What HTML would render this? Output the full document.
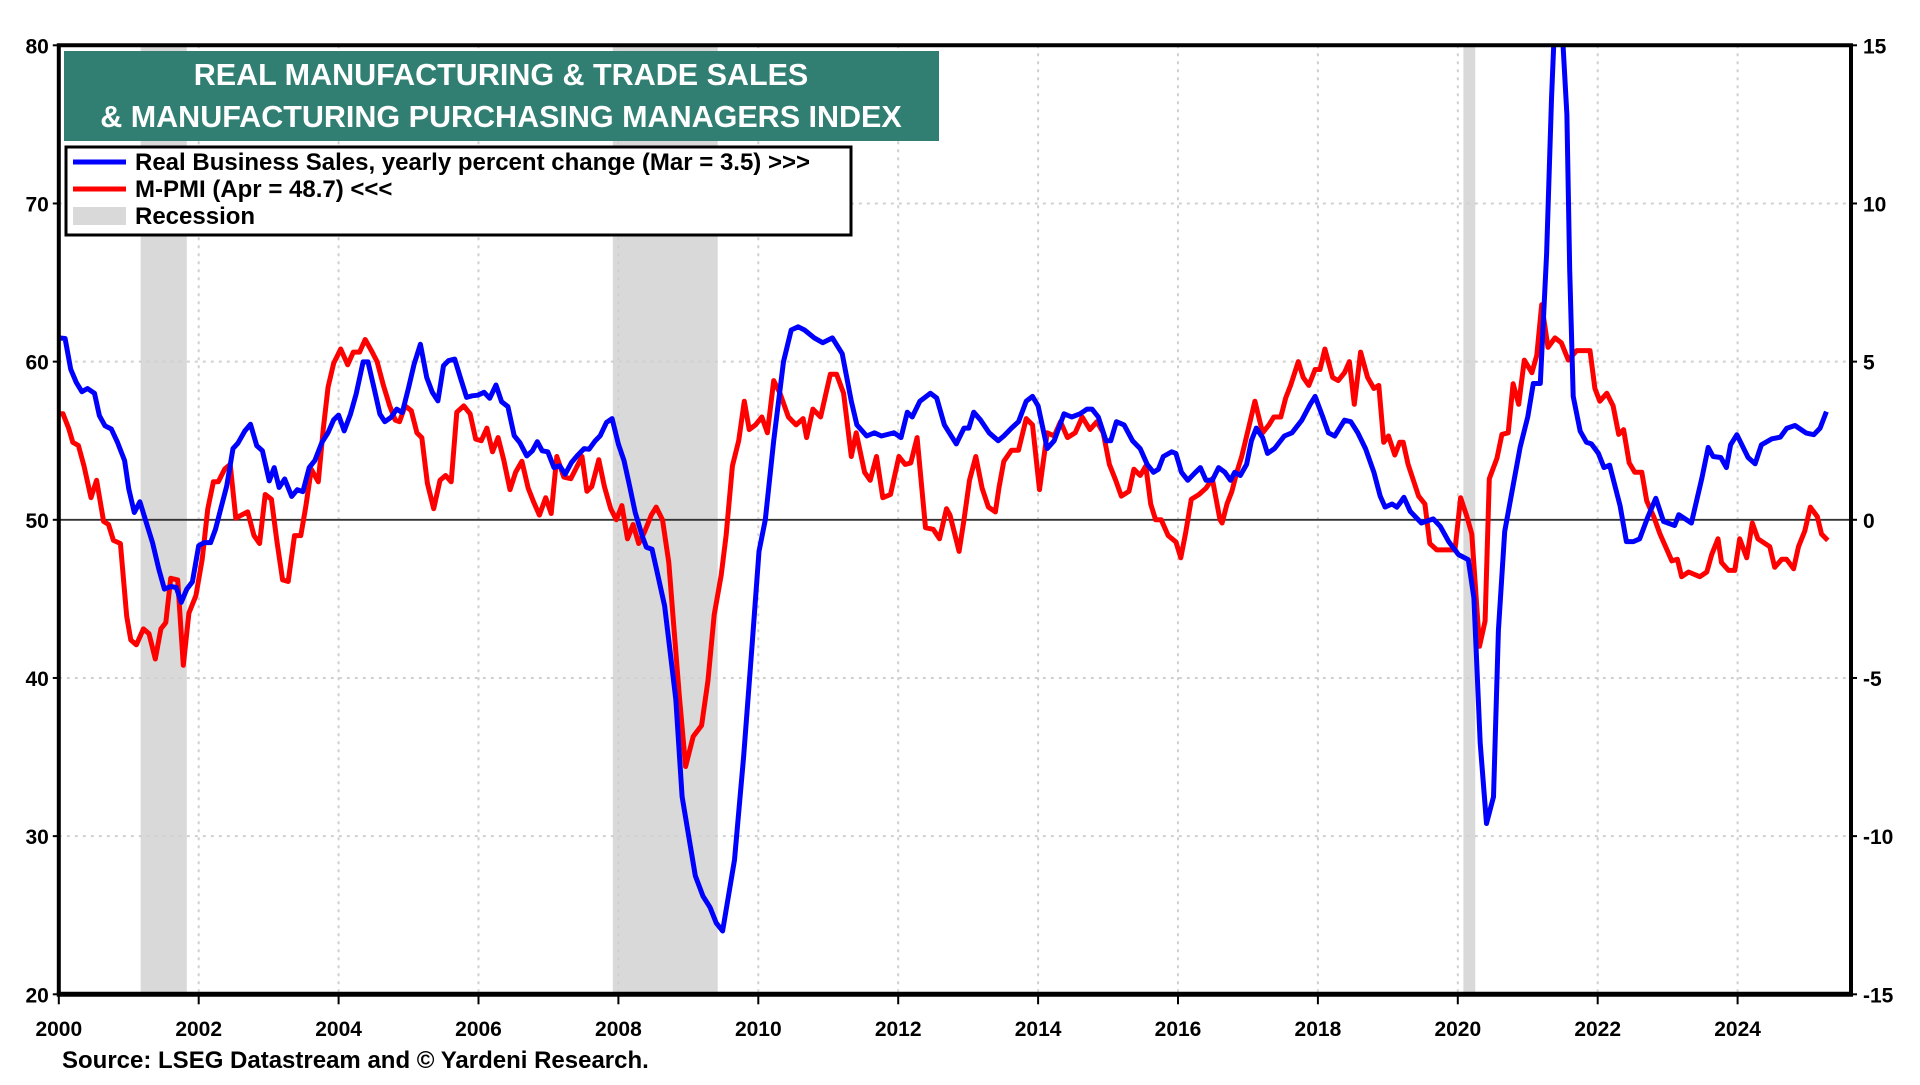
<!DOCTYPE html>
<html><head><meta charset="utf-8"><style>
body{margin:0;background:#fff;width:1920px;height:1080px;overflow:hidden;font-family:"Liberation Sans",Arial,sans-serif}
svg text{font-family:"Liberation Sans",Arial,sans-serif;font-weight:bold}
</style></head><body>
<svg id="chart" width="1920" height="1080" xmlns="http://www.w3.org/2000/svg"></svg>
<script>
const blueDates=[2000.0,2000.09,2000.17,2000.25,2000.33,2000.41,2000.51,2000.58,2000.66,2000.75,2000.84,2000.94,2001.0,2001.08,2001.16,2001.25,2001.34,2001.43,2001.51,2001.6,2001.68,2001.75,2001.83,2001.91,2002.0,2002.08,2002.17,2002.24,2002.32,2002.4,2002.49,2002.56,2002.66,2002.74,2002.83,2002.91,2003.01,2003.08,2003.15,2003.23,2003.33,2003.41,2003.49,2003.58,2003.66,2003.76,2003.85,2003.93,2004.0,2004.08,2004.17,2004.25,2004.35,2004.42,2004.51,2004.59,2004.66,2004.75,2004.83,2004.91,2005.0,2005.08,2005.17,2005.26,2005.34,2005.42,2005.5,2005.57,2005.66,2005.74,2005.83,2005.91,2005.99,2006.08,2006.16,2006.25,2006.33,2006.42,2006.51,2006.59,2006.69,2006.77,2006.84,2006.91,2006.99,2007.08,2007.16,2007.24,2007.33,2007.41,2007.51,2007.58,2007.67,2007.74,2007.83,2007.91,2008.0,2008.08,2008.16,2008.24,2008.34,2008.4,2008.48,2008.56,2008.66,2008.74,2008.82,2008.91,2009.1,2009.21,2009.31,2009.4,2009.49,2009.66,2009.79,2009.91,2010.01,2010.1,2010.22,2010.36,2010.47,2010.57,2010.66,2010.8,2010.92,2011.06,2011.2,2011.33,2011.41,2011.55,2011.66,2011.76,2011.94,2012.04,2012.13,2012.2,2012.31,2012.46,2012.55,2012.66,2012.73,2012.83,2012.94,2013.01,2013.08,2013.18,2013.3,2013.43,2013.51,2013.62,2013.72,2013.83,2013.92,2014.0,2014.13,2014.23,2014.37,2014.48,2014.6,2014.7,2014.77,2014.86,2014.97,2015.04,2015.12,2015.23,2015.35,2015.46,2015.56,2015.65,2015.72,2015.79,2015.91,2015.97,2016.05,2016.14,2016.25,2016.32,2016.4,2016.49,2016.58,2016.67,2016.75,2016.81,2016.89,2016.98,2017.05,2017.12,2017.21,2017.28,2017.38,2017.52,2017.63,2017.77,2017.89,2017.96,2018.07,2018.15,2018.24,2018.38,2018.47,2018.57,2018.68,2018.8,2018.89,2018.96,2019.06,2019.13,2019.17,2019.23,2019.32,2019.48,2019.65,2019.75,2019.87,2020.01,2020.15,2020.23,2020.32,2020.41,2020.51,2020.58,2020.67,2020.77,2020.89,2021.0,2021.08,2021.18,2021.27,2021.34,2021.39,2021.48,2021.56,2021.6,2021.65,2021.75,2021.84,2021.91,2022.01,2022.09,2022.17,2022.32,2022.41,2022.51,2022.6,2022.72,2022.83,2022.94,2023.1,2023.16,2023.34,2023.49,2023.58,2023.65,2023.76,2023.84,2023.9,2023.99,2024.15,2024.25,2024.34,2024.49,2024.61,2024.7,2024.82,2024.98,2025.09,2025.18,2025.27];
const blueValues=[5.75,5.73,4.76,4.34,4.05,4.15,4.0,3.29,2.97,2.87,2.44,1.87,0.97,0.23,0.57,-0.08,-0.72,-1.56,-2.19,-2.11,-2.14,-2.61,-2.19,-1.96,-0.82,-0.72,-0.72,-0.3,0.39,1.07,2.25,2.42,2.81,3.02,2.34,2.18,1.23,1.65,1.02,1.29,0.74,0.95,0.89,1.65,1.87,2.44,2.76,3.16,3.31,2.81,3.34,3.97,4.99,4.99,4.13,3.34,3.1,3.24,3.5,3.39,4.18,4.92,5.55,4.5,4.03,3.76,4.87,5.03,5.08,4.5,3.87,3.92,3.94,4.03,3.84,4.26,3.73,3.58,2.66,2.44,2.02,2.18,2.47,2.18,2.15,1.65,1.71,1.44,1.81,2.02,2.25,2.23,2.5,2.66,3.08,3.2,2.39,1.87,1.07,0.23,-0.51,-0.87,-0.93,-1.72,-2.72,-4.19,-5.67,-8.75,-11.25,-11.9,-12.25,-12.75,-13,-10.75,-7.5,-4,-1,0,2.5,5,6,6.1,6,5.75,5.6,5.75,5.25,3.75,3,2.65,2.75,2.65,2.75,2.6,3.4,3.25,3.75,4,3.85,3,2.75,2.4,2.9,2.9,3.4,3.15,2.75,2.5,2.65,2.9,3.1,3.75,3.9,3.6,2.25,2.5,3.35,3.25,3.35,3.5,3.5,3.25,2.5,2.5,3.1,3,2.5,2.25,1.75,1.5,1.6,2,2.15,2.1,1.5,1.25,1.5,1.65,1.25,1.25,1.65,1.5,1.25,1.5,1.4,1.75,2.5,2.9,2.6,2.1,2.25,2.65,2.75,3.15,3.65,3.9,3.25,2.75,2.65,3.15,3.1,2.75,2.25,1.5,0.75,0.4,0.5,0.4,0.52,0.71,0.27,-0.1,0.03,-0.21,-0.69,-1.1,-1.26,-2.47,-7.06,-9.6,-8.76,-3.5,-0.37,0.84,2.29,3.26,4.31,4.31,8.4,13.3,16,16,12.8,7.9,3.9,2.8,2.45,2.4,2.1,1.65,1.73,0.44,-0.69,-0.69,-0.6,0.11,0.68,-0.05,-0.18,0.16,-0.1,1.32,2.29,2.0,1.97,1.65,2.37,2.69,1.97,1.77,2.37,2.56,2.61,2.89,2.98,2.74,2.69,2.9,3.42];
const redDates=[2000.0,2000.06,2000.14,2000.2,2000.28,2000.36,2000.46,2000.54,2000.64,2000.71,2000.78,2000.88,2000.97,2001.03,2001.11,2001.21,2001.29,2001.38,2001.46,2001.53,2001.6,2001.7,2001.78,2001.86,2001.96,2002.05,2002.13,2002.21,2002.28,2002.37,2002.45,2002.53,2002.61,2002.7,2002.79,2002.87,2002.95,2003.04,2003.12,2003.2,2003.28,2003.37,2003.46,2003.53,2003.61,2003.71,2003.78,2003.85,2003.93,2004.03,2004.13,2004.21,2004.3,2004.38,2004.48,2004.55,2004.64,2004.73,2004.81,2004.87,2004.95,2005.04,2005.12,2005.19,2005.27,2005.36,2005.45,2005.53,2005.61,2005.69,2005.79,2005.88,2005.96,2006.04,2006.12,2006.2,2006.28,2006.36,2006.45,2006.53,2006.62,2006.71,2006.79,2006.87,2006.96,2007.04,2007.12,2007.22,2007.32,2007.4,2007.48,2007.55,2007.62,2007.72,2007.8,2007.89,2007.97,2008.05,2008.13,2008.21,2008.29,2008.37,2008.47,2008.54,2008.63,2008.72,2008.78,2008.87,2008.96,2009.07,2009.19,2009.28,2009.37,2009.47,2009.54,2009.63,2009.72,2009.8,2009.87,2009.96,2010.05,2010.13,2010.22,2010.31,2010.43,2010.54,2010.64,2010.69,2010.78,2010.89,2011.03,2011.12,2011.22,2011.33,2011.4,2011.52,2011.6,2011.69,2011.78,2011.89,2012.01,2012.1,2012.18,2012.27,2012.39,2012.5,2012.59,2012.69,2012.74,2012.87,2012.94,2013.02,2013.11,2013.2,2013.29,2013.39,2013.44,2013.51,2013.62,2013.72,2013.83,2013.92,2014.02,2014.13,2014.23,2014.32,2014.42,2014.53,2014.63,2014.74,2014.84,2014.93,2015.02,2015.11,2015.19,2015.3,2015.37,2015.46,2015.54,2015.61,2015.68,2015.76,2015.86,2015.97,2016.04,2016.11,2016.19,2016.3,2016.4,2016.49,2016.6,2016.63,2016.7,2016.77,2016.84,2016.91,2017.02,2017.1,2017.21,2017.3,2017.37,2017.47,2017.54,2017.61,2017.72,2017.79,2017.87,2017.96,2018.03,2018.1,2018.21,2018.29,2018.38,2018.45,2018.52,2018.61,2018.71,2018.8,2018.87,2018.94,2019.01,2019.1,2019.17,2019.22,2019.29,2019.44,2019.53,2019.6,2019.7,2019.89,2019.96,2020.04,2020.13,2020.2,2020.31,2020.39,2020.45,2020.56,2020.63,2020.72,2020.79,2020.87,2020.95,2021.06,2021.13,2021.2,2021.29,2021.39,2021.48,2021.58,2021.7,2021.89,2021.96,2022.03,2022.13,2022.22,2022.3,2022.37,2022.45,2022.53,2022.63,2022.7,2022.8,2022.89,2022.99,2023.06,2023.14,2023.2,2023.3,2023.46,2023.56,2023.63,2023.72,2023.77,2023.87,2023.96,2024.03,2024.13,2024.21,2024.29,2024.46,2024.53,2024.63,2024.7,2024.8,2024.87,2024.96,2025.04,2025.14,2025.2,2025.29];
const redValues=[56.7,56.7,55.8,54.9,54.7,53.4,51.4,52.5,49.9,49.7,48.7,48.5,43.9,42.4,42.1,43.1,42.8,41.2,43.1,43.5,46.3,46.2,40.8,44.1,45.2,47.5,50.7,52.4,52.4,53.2,53.5,50.1,50.3,50.5,49.0,48.5,51.6,51.3,48.6,46.2,46.1,49.0,49.0,50.8,53.2,52.4,55.7,58.4,59.9,60.8,59.8,60.6,60.6,61.4,60.6,60.0,58.5,57.2,56.3,56.2,57.2,56.9,55.5,55.2,52.3,50.7,52.5,52.8,52.4,56.8,57.2,56.7,55.1,55.0,55.8,54.3,55.2,53.8,51.9,53.0,53.7,52.0,51.1,50.3,51.4,50.4,54.0,52.7,52.6,53.3,54.0,51.8,52.1,53.8,52.1,50.7,50.0,50.9,48.8,49.7,48.5,49.2,50.3,50.8,50.0,47.3,43.9,38.9,34.4,36.3,37.0,39.8,44.0,46.5,49.0,53.4,55.0,57.5,55.7,56.0,56.5,55.5,58.8,58.0,56.5,56.0,56.4,55.2,57.0,56.5,59.2,59.2,58.0,54.0,55.5,53.0,52.5,54.0,51.4,51.6,54.0,53.5,53.6,55.2,49.5,49.4,48.8,50.7,50.3,48.0,50.0,52.5,54.0,52.0,50.8,50.5,52.0,53.7,54.4,54.4,56.4,56.0,51.9,55.5,55.3,56.2,55.2,55.5,56.5,55.7,56.2,55.5,53.5,52.5,51.5,51.8,53.2,52.8,53.4,51.0,50.0,50.0,49.0,48.6,47.6,49.2,51.3,51.6,52.0,52.6,50.0,49.8,51.0,51.8,53.0,54.0,56.0,57.5,55.5,56.0,56.5,56.5,57.7,58.5,60.0,59.0,58.5,59.5,59.5,60.8,59.0,58.8,59.3,60.0,57.3,60.6,59.0,58.3,58.5,54.9,55.3,54.1,54.9,54.9,53.5,51.5,51.0,48.5,48.1,48.1,48.1,51.4,50.2,49.1,42.0,43.6,52.6,53.9,55.4,55.5,58.6,57.3,60.1,59.3,60.4,63.6,60.9,61.5,61.2,60.1,60.7,60.7,58.3,57.5,58.0,57.2,55.4,55.7,53.6,53.0,53.0,51.2,50.2,49.1,48.1,47.4,47.5,46.4,46.7,46.4,46.7,47.8,48.8,47.3,46.8,46.8,48.8,47.6,49.8,48.8,48.3,47.0,47.5,47.5,46.9,48.3,49.3,50.8,50.2,49.1,48.7];
const recessionStarts=[2001.17,2007.92,2020.08];
const recessionEnds=[2001.83,2009.42,2020.25];
const yearTicks=[2000,2002,2004,2006,2008,2010,2012,2014,2016,2018,2020,2022,2024];
const leftTicks=[20,30,40,50,60,70,80];
const rightTicks=[-15,-10,-5,0,5,10,15];

const L=58.8,R=1851,T=45.3,B=994.3;
const X0=2000,XPX=69.95;
const xS=y=>L+(y-X0)*XPX;
const yL=v=>B-(v-20)/60*(B-T);
const yR=v=>B-(v+15)/30*(B-T);
const NS='http://www.w3.org/2000/svg';
const svg=document.getElementById('chart');
function mk(tag,attrs,parent){const e=document.createElementNS(NS,tag);for(const k in attrs)e.setAttribute(k,attrs[k]);(parent||svg).appendChild(e);return e;}

const defs=mk('defs',{});
const cp=mk('clipPath',{id:'pc'},defs);
mk('rect',{x:L,y:T,width:R-L,height:B-T},cp);

recessionStarts.forEach((s,i)=>{
  const r=mk('rect',{x:xS(s),y:T,width:xS(recessionEnds[i])-xS(s),height:B-T,fill:'#d9d9d9'});
  
  
});
yearTicks.forEach(y=>{
  if(y===2000)return;
  const g=mk('line',{x1:xS(y),x2:xS(y),y1:T,y2:B,stroke:'#d0d0d0','stroke-width':2,'stroke-dasharray':'3,5'});
  
  
});
leftTicks.forEach(v=>{
  if(v===20||v===80)return;
  const g=mk('line',{x1:L,x2:R,y1:yL(v),y2:yL(v),stroke:v===50?'#333':'#d0d0d0','stroke-width':v===50?1.8:2,'stroke-dasharray':v===50?'none':'3,5'});
  
  
});
function path(dates,vals,fy){return dates.map((d,i)=>(i?'L':'M')+xS(d).toFixed(1)+','+fy(vals[i]).toFixed(1)).join(' ');}
const red=mk('path',{d:path(redDates,redValues,yL),fill:'none',stroke:'#ff0000','stroke-width':5,'stroke-linejoin':'round','clip-path':'url(#pc)'});


const blue=mk('path',{d:path(blueDates,blueValues,yR),fill:'none',stroke:'#0000ff','stroke-width':5,'stroke-linejoin':'round','clip-path':'url(#pc)'});



const fr=mk('path',{d:`M${L},${B} L${L},${T} L${R},${T} L${R},${B}`,fill:'none',stroke:'#000','stroke-width':4});


const bl=mk('line',{x1:L-2,x2:R+2,y1:B,y2:B,stroke:'#000','stroke-width':5});



leftTicks.forEach(v=>{
  mk('line',{x1:L-6,x2:L,y1:yL(v),y2:yL(v),stroke:'#000','stroke-width':2});
  const t=mk('text',{x:L-10,y:yL(v)+8,'text-anchor':'end','font-size':21});
  t.textContent=v;
  
  
});
rightTicks.forEach(v=>{
  mk('line',{x1:R,x2:R+6,y1:yR(v),y2:yR(v),stroke:'#000','stroke-width':2});
  const t=mk('text',{x:R+12,y:yR(v)+8,'text-anchor':'start','font-size':21});
  t.textContent=v;
  
  
});
yearTicks.forEach(y=>{
  mk('line',{x1:xS(y),x2:xS(y),y1:B,y2:B+10,stroke:'#000','stroke-width':2});
  const t=mk('text',{x:xS(y),y:1036,'text-anchor':'middle','font-size':21});
  t.textContent=y;
  
  
});
</script>
<svg style="position:absolute;left:0;top:0" width="1920" height="1080" xmlns="http://www.w3.org/2000/svg">
  <g>
    <rect x="64" y="51" width="875" height="90" fill="#317f72"/>
    <text x="501" y="85" text-anchor="middle" font-size="30.5" fill="#fff">REAL MANUFACTURING &amp; TRADE SALES</text>
    <text x="501" y="127" text-anchor="middle" font-size="30.5" fill="#fff">&amp; MANUFACTURING PURCHASING MANAGERS INDEX</text>
  </g>
  <g>
    <rect x="66" y="147" width="785" height="88" fill="#fff" stroke="#000" stroke-width="3"/>
    <line x1="73" x2="126" y1="162" y2="162" stroke="#0000ff" stroke-width="5"/>
    <text x="135" y="170" font-size="24">Real Business Sales, yearly percent change (Mar = 3.5) &gt;&gt;&gt;</text>
    <line x1="73" x2="126" y1="189" y2="189" stroke="#ff0000" stroke-width="5"/>
    <text x="135" y="197" font-size="24">M-PMI (Apr = 48.7) &lt;&lt;&lt;</text>
    <rect x="73" y="207" width="53" height="18" fill="#d9d9d9"/>
    <text x="135" y="224" font-size="24">Recession</text>
  </g>
  <text x="62" y="1068" font-size="24">Source: LSEG Datastream and © Yardeni Research.</text>
</svg>
</body></html>
